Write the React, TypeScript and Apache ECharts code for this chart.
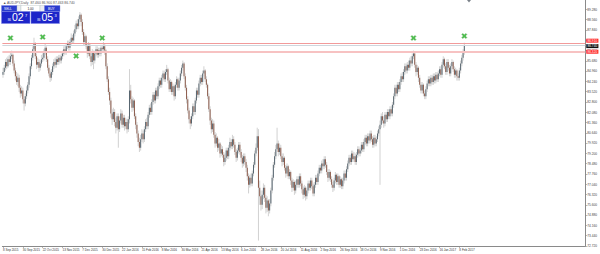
import React, { useEffect, useRef } from "react";
import * as echarts from "echarts";

const firstOpen = 84.7;
const closes = [
  84.9, 85.2, 85.6, 85.3, 85.8, 85.6, 86.0, 86.1, 85.5, 85.0, 84.6, 84.2, 84.5, 83.8, 83.4, 83.6,
  83.0, 82.7, 83.2, 83.6, 84.0, 84.6, 85.3, 85.9, 86.5, 86.9, 86.0, 85.4, 85.6, 85.2, 85.5, 85.8,
  85.9, 86.3, 86.6, 85.8, 85.2, 84.8, 84.5, 84.9, 85.3, 85.6, 85.4, 85.8, 85.6, 85.9, 85.7, 86.0,
  86.2, 86.5, 86.3, 86.7, 86.9, 86.6, 87.0, 87.3, 87.1, 87.6, 87.9, 88.3, 88.1, 88.6, 88.9, 88.4,
  87.7, 87.0, 87.4, 86.7, 86.2, 86.8, 86.0, 85.6, 86.3, 85.7, 86.2, 86.5, 86.1, 86.4, 86.2, 86.6,
  86.5, 86.7, 86.4, 85.3, 84.4, 83.5, 82.9, 82.0, 81.6, 82.1, 81.4, 81.0, 81.8, 80.9, 81.5, 82.0,
  81.2, 81.7, 81.1, 81.4, 80.9, 81.6, 83.6, 83.0, 82.4, 82.9, 81.8, 81.2, 80.6, 80.0, 79.6, 80.2,
  80.6, 80.2, 80.9, 81.4, 81.1, 81.9, 82.4, 82.1, 82.8, 83.3, 82.9, 83.6, 83.2, 83.9, 84.3, 84.0,
  84.5, 84.8, 84.4, 84.9, 85.1, 84.3, 83.7, 84.2, 83.5, 83.9, 83.2, 84.0, 84.4, 83.8, 84.3, 84.8,
  85.2, 85.5, 84.6, 83.8, 83.0, 82.2, 81.6, 81.3, 81.8, 82.5, 82.1, 82.9, 83.6, 83.3, 84.1, 84.5,
  84.2, 84.8, 85.0, 84.4, 84.0, 83.2, 82.3, 81.5, 80.9, 81.3, 80.5, 79.9, 80.3, 79.6, 79.9, 79.2,
  79.5, 79.1, 78.6, 78.9, 79.4, 79.0, 79.6, 80.0, 79.7, 80.2, 79.8, 79.3, 78.9, 79.4, 79.8, 79.3,
  78.9, 78.5, 79.0, 78.6, 78.2, 77.6, 77.0, 77.5, 77.1, 77.8, 78.4, 79.2, 79.6, 80.4, 76.8, 76.2,
  75.6, 76.3, 76.8, 76.1, 75.4, 75.9, 75.2, 75.7, 76.6, 77.5, 78.4, 79.0, 79.5, 79.9, 79.3, 79.6,
  79.0, 78.6, 78.9, 78.2, 77.8, 78.3, 77.6, 77.9, 77.3, 76.8, 77.2, 76.6, 77.0, 77.4, 77.0, 77.6,
  77.1, 76.7, 76.3, 76.8, 76.2, 76.6, 77.1, 76.8, 77.3, 76.9, 76.4, 77.0, 77.5, 77.2, 77.8, 78.2,
  78.0, 78.5, 78.3, 78.8, 78.4, 77.9, 77.5, 77.9, 77.4, 77.0, 76.8, 77.3, 77.7, 77.2, 77.6, 77.0,
  77.4, 76.9, 77.3, 77.8, 77.5, 78.1, 78.5, 78.9, 78.6, 79.2, 78.8, 79.0, 78.6, 79.1, 79.5, 79.2,
  79.4, 79.8, 79.5, 80.0, 80.3, 79.9, 80.4, 80.1, 80.6, 80.2, 79.8, 80.3, 79.9, 80.2, 80.6, 80.9,
  81.2, 81.8, 81.5, 81.3, 81.9, 81.6, 82.1, 81.8, 82.3, 82.0, 82.6, 83.2, 83.8, 83.4, 84.0, 83.7,
  84.2, 84.6, 84.4, 84.9, 85.3, 85.0, 85.4, 85.2, 85.7, 85.5, 86.0, 86.2, 85.4, 84.9, 85.2, 84.5,
  84.0, 83.6, 84.0, 83.4, 83.2, 83.7, 84.1, 84.4, 84.1, 84.5, 84.2, 84.6, 84.3, 84.7, 84.4, 84.8,
  85.1, 84.7, 85.4, 85.8, 85.3, 84.9, 85.6, 85.2, 84.8, 85.3, 85.6, 85.1, 84.7, 85.0, 84.6, 84.5,
  85.0, 85.5, 85.9, 86.3, 86.75,
];
const highs = [
  85.2, 85.4, 85.8, 85.9, 86.0, 86.1, 86.3, 86.4, 86.2, 85.7, 85.2, 84.9, 84.8, 84.7, 84.0, 83.9,
  83.8, 83.2, 83.4, 83.9, 84.2, 84.8, 85.5, 86.1, 86.7, 87.3, 87.0, 86.2, 85.9, 85.8, 85.7, 86.1,
  86.2, 86.5, 86.9, 86.7, 86.0, 85.4, 85.0, 85.1, 85.5, 85.8, 85.9, 86.0, 86.0, 86.1, 86.1, 86.2,
  86.4, 86.7, 86.8, 86.9, 87.1, 87.1, 87.2, 87.6, 87.5, 87.8, 88.2, 88.5, 88.6, 88.8, 89.1, 89.0,
  88.6, 87.9, 87.6, 87.5, 86.9, 87.0, 86.9, 86.2, 86.5, 86.4, 86.4, 86.7, 86.7, 86.6, 86.6, 86.8,
  86.8, 87.0, 86.9, 86.5, 85.5, 84.6, 83.8, 83.1, 82.3, 82.4, 82.3, 81.7, 82.0, 82.0, 81.8, 82.3,
  82.2, 81.9, 81.9, 81.7, 81.6, 81.8, 85.1, 84.0, 83.2, 83.1, 83.0, 82.0, 81.4, 80.8, 80.3, 80.5,
  80.9, 80.8, 81.1, 81.6, 81.7, 82.1, 82.6, 82.7, 83.0, 83.5, 83.5, 83.8, 83.8, 84.1, 84.5, 84.5,
  84.7, 85.0, 85.0, 85.1, 85.4, 85.2, 84.5, 84.4, 84.3, 84.1, 84.0, 84.2, 84.6, 84.5, 84.5, 85.0,
  85.4, 85.7, 85.6, 84.8, 84.0, 83.2, 82.4, 81.8, 82.0, 82.7, 82.7, 83.1, 83.8, 83.8, 84.3, 84.7,
  84.7, 85.0, 85.3, 85.1, 84.6, 84.1, 83.4, 82.5, 81.7, 81.6, 81.5, 80.7, 80.6, 80.4, 80.2, 80.0,
  79.8, 79.7, 79.3, 79.2, 79.6, 79.6, 79.8, 80.3, 80.2, 80.5, 80.4, 80.0, 79.5, 79.6, 80.0, 80.0,
  79.5, 79.1, 79.2, 79.2, 78.8, 78.4, 77.8, 77.7, 77.8, 78.0, 78.6, 79.4, 79.9, 81.0, 80.9, 77.3,
  76.6, 76.6, 77.1, 77.0, 76.3, 76.2, 76.0, 76.0, 76.8, 77.7, 78.6, 79.3, 79.8, 81.0, 80.1, 79.9,
  79.8, 79.2, 79.2, 79.0, 78.4, 78.5, 78.4, 78.1, 78.0, 77.5, 77.4, 77.3, 77.3, 77.6, 77.6, 77.8,
  77.8, 77.3, 76.9, 77.0, 76.9, 76.8, 77.3, 77.3, 77.5, 77.5, 77.1, 77.2, 77.7, 77.7, 78.0, 78.4,
  78.4, 78.7, 78.8, 79.0, 79.0, 78.6, 78.1, 78.1, 78.0, 77.6, 77.2, 77.5, 77.9, 77.8, 77.8, 77.7,
  77.6, 77.5, 77.5, 78.0, 78.0, 78.3, 78.7, 79.1, 79.1, 79.4, 79.4, 79.3, 79.2, 79.3, 79.7, 79.7,
  79.6, 80.0, 80.0, 80.2, 80.5, 80.5, 80.6, 80.6, 80.8, 80.8, 80.4, 80.5, 80.5, 80.4, 80.8, 81.1,
  81.5, 82.0, 82.1, 81.8, 82.1, 82.1, 82.3, 82.3, 82.5, 82.5, 82.8, 83.4, 84.0, 84.0, 84.2, 84.2,
  84.4, 84.8, 84.9, 85.1, 85.5, 85.5, 85.6, 85.7, 85.9, 86.0, 86.2, 86.4, 86.3, 85.6, 85.4, 85.3,
  84.7, 84.2, 84.2, 84.1, 83.6, 83.9, 84.3, 84.6, 84.6, 84.7, 84.7, 84.8, 84.8, 84.9, 84.9, 85.0,
  85.3, 85.3, 85.6, 86.0, 85.9, 85.5, 85.8, 85.8, 85.4, 85.5, 85.8, 85.7, 85.3, 85.2, 85.1, 84.8,
  85.2, 85.7, 86.1, 86.5, 86.95,
];
const lows = [
  84.5, 84.7, 85.0, 85.1, 85.2, 85.4, 85.4, 85.8, 85.3, 84.8, 84.3, 84.0, 83.9, 83.5, 83.1, 83.2,
  82.7, 82.2, 82.5, 83.0, 83.4, 83.8, 84.4, 85.1, 85.7, 86.3, 85.8, 85.1, 85.2, 84.9, 85.0, 85.3,
  85.6, 85.7, 86.1, 85.6, 85.0, 84.6, 84.2, 84.3, 84.7, 85.1, 85.2, 85.2, 85.4, 85.4, 85.5, 85.5,
  85.8, 86.0, 86.1, 86.1, 86.5, 86.4, 86.4, 86.8, 86.9, 86.9, 87.4, 87.7, 87.9, 87.9, 88.4, 88.1,
  87.5, 86.8, 86.8, 86.5, 85.9, 86.0, 85.8, 85.3, 85.4, 85.1, 85.5, 86.0, 85.9, 85.9, 86.0, 86.0,
  86.3, 86.3, 86.1, 85.1, 84.2, 83.3, 82.6, 81.7, 81.2, 81.4, 81.1, 80.6, 80.8, 79.6, 80.7, 81.3,
  81.0, 81.0, 80.8, 80.9, 80.6, 80.7, 81.3, 82.7, 82.1, 82.2, 81.6, 80.9, 80.3, 79.7, 79.3, 79.4,
  80.0, 79.9, 80.0, 80.7, 80.9, 80.9, 81.7, 81.9, 81.9, 82.6, 82.7, 82.7, 83.0, 83.0, 83.7, 83.8,
  83.8, 84.3, 84.2, 84.2, 84.7, 84.1, 83.5, 83.5, 83.3, 83.3, 82.9, 83.0, 83.8, 83.6, 83.6, 84.1,
  84.6, 85.0, 84.4, 83.6, 82.7, 82.0, 81.3, 80.9, 81.1, 81.6, 81.9, 81.9, 82.7, 83.1, 83.1, 83.9,
  84.0, 84.0, 84.6, 84.2, 83.8, 83.0, 82.1, 81.2, 80.6, 80.7, 80.3, 79.6, 79.7, 79.3, 79.4, 78.9,
  79.0, 78.9, 78.3, 78.4, 78.7, 78.8, 78.8, 79.4, 79.5, 79.5, 79.6, 79.1, 78.6, 78.7, 79.2, 79.1,
  78.6, 78.2, 78.3, 78.4, 77.9, 77.3, 76.4, 76.8, 76.9, 76.9, 77.6, 78.2, 79.0, 79.4, 73.1, 75.6,
  75.2, 75.3, 76.0, 75.8, 75.0, 75.1, 74.8, 75.0, 75.5, 76.4, 77.3, 78.2, 78.8, 79.3, 79.0, 79.1,
  78.8, 78.3, 78.4, 78.0, 77.5, 77.6, 77.4, 77.4, 77.0, 76.5, 76.6, 76.3, 76.4, 76.8, 76.8, 76.8,
  76.9, 76.4, 76.0, 76.1, 75.9, 76.0, 76.4, 76.6, 76.6, 76.7, 76.2, 76.2, 76.8, 77.0, 77.0, 77.6,
  77.8, 77.8, 78.1, 78.1, 78.2, 77.7, 77.2, 77.3, 77.2, 76.8, 76.5, 76.6, 77.1, 77.0, 77.0, 76.8,
  76.8, 76.7, 76.7, 77.1, 77.3, 77.3, 77.9, 78.3, 78.4, 78.4, 78.6, 78.6, 78.4, 78.4, 78.9, 79.0,
  79.0, 79.2, 79.3, 79.3, 79.8, 79.7, 79.7, 79.9, 79.9, 80.0, 79.6, 79.6, 79.7, 79.7, 80.0, 80.4,
  77.0, 81.0, 81.3, 81.0, 81.1, 81.4, 81.4, 81.6, 81.6, 81.8, 81.8, 82.4, 83.0, 83.2, 83.2, 83.5,
  83.5, 84.0, 84.2, 84.2, 84.7, 84.8, 84.8, 85.0, 85.0, 85.3, 85.3, 85.8, 85.2, 84.6, 84.7, 84.2,
  83.8, 83.4, 83.4, 83.2, 83.0, 83.0, 83.5, 83.9, 83.9, 83.9, 84.0, 84.0, 84.1, 84.1, 84.2, 84.2,
  84.6, 84.5, 84.5, 85.2, 85.1, 84.7, 84.7, 85.0, 84.6, 84.6, 85.1, 84.9, 84.5, 84.5, 84.3, 84.3,
  84.3, 84.8, 85.3, 85.7, 86.1,
];

const dateLabels = [
  "8 Sep 2015", "30 Sep 2015", "22 Oct 2015", "13 Nov 2015", "7 Dec 2015", "30 Dec 2015",
  "22 Jan 2016", "15 Feb 2016", "8 Mar 2016", "30 Mar 2016", "21 Apr 2016", "13 May 2016",
  "6 Jun 2016", "28 Jun 2016", "20 Jul 2016", "11 Aug 2016", "2 Sep 2016", "26 Sep 2016",
  "18 Oct 2016", "9 Nov 2016", "1 Dec 2016", "23 Dec 2016", "16 Jan 2017", "8 Feb 2017",
];
const labelEvery = 16;
const slotCount = 470;

const crossMarks = [
  [6, 87.28], [32, 87.35], [59, 86.02], [80, 87.28], [331, 87.28], [372, 87.42],
];
const levelLines = [
  { value: 86.91, label: "86.910", kind: "res" },
  { value: 86.74, label: "86.740", kind: "bid" },
  { value: 86.32, label: "86.320", kind: "sup" },
];
const headerText = "AUDJPY,Daily  87.460 86.900 87.463 86.740";
const sellQuote = { small: "86", big: "02", sup: "7" };
const buyQuote = { small: "86", big: "05", sup: "3" };
const lotText = "1.00";

const BULL = "#56656f";
const BEAR = "#8d5c4c";
const WICK = "#bdbdbd";

export default function App() {
  const ref = useRef<HTMLDivElement>(null);
  useEffect(() => {
    if (!ref.current) return;
    const chart = echarts.init(ref.current, undefined, { renderer: "svg" });
    const candles = closes.map((c, i) => [i, i === 0 ? firstOpen : closes[i - 1], c, lows[i], highs[i]]);
    const cats = Array.from({ length: slotCount }, (_, i) => String(i));
    const showLabel = (idx: number) => idx % labelEvery === 0 && idx / labelEvery < dateLabels.length;
    const X_SYM = "path://M2,0 L5,3 L8,0 L10,2 L7,5 L10,8 L8,10 L5,7 L2,10 L0,8 L3,5 L0,2 Z";

    const lineStyleFor = (k: string) =>
      k === "res" ? { color: "#f29a9a", width: 1, type: "solid" as const }
      : k === "bid" ? { color: "#cfd6dd", width: 1, type: "solid" as const }
      : { color: "#f7c2c2", width: 2.2, type: "solid" as const };
    const labelBg = (k: string) => (k === "bid" ? "#111" : "#ff2a2a");
    const labelOffset = (k: string) => (k === "res" ? [0, -2.6] : k === "bid" ? [0, 0.4] : [0, 0]);

    const quoteBox = (x: number, q: { small: string; big: string; sup: string }) => ({
      type: "group",
      children: [
        { type: "rect", shape: { x, y: 11.5, width: 28.5, height: 12 }, style: { fill: "#1d25c9", stroke: "#7f86e6", lineWidth: 0.5 } },
        { type: "text", x: x + 9.5, y: 21.5, style: { text: q.small, fill: "#fff", fontSize: 3, fontFamily: "Arial", textVerticalAlign: "bottom", textAlign: "right" } },
        { type: "text", x: x + 10.5, y: 22.5, style: { text: q.big, fill: "#fff", fontSize: 10.5, fontFamily: "Arial", textVerticalAlign: "bottom" } },
        { type: "text", x: x + 23.5, y: 13, style: { text: q.sup, fill: "#fff", fontSize: 4, fontFamily: "Arial", textVerticalAlign: "top" } },
      ],
    });

    chart.setOption({
      animation: false,
      backgroundColor: "#ffffff",
      grid: { left: 0, top: 0, width: 587, height: 246, containLabel: false },
      xAxis: {
        type: "category",
        data: cats,
        boundaryGap: true,
        axisLine: { show: true, lineStyle: { color: "#8a8a8a", width: 1 } },
        axisTick: { show: true, interval: (i: number) => showLabel(i), length: 2, alignWithLabel: true, lineStyle: { color: "#8a8a8a", width: 0.6 } },
        axisLabel: {
          show: true,
          interval: (i: number) => showLabel(i),
          formatter: (_v: string, i: number) => dateLabels[i / labelEvery] ?? "",
          fontSize: 3,
          color: "#333",
          align: "left",
          margin: 2.5,
          fontFamily: "Arial",
        },
        splitLine: { show: false },
      },
      yAxis: {
        type: "value",
        position: "right",
        min: 72.72,
        max: 89.94,
        interval: 0.72,
        axisLine: { show: true, lineStyle: { color: "#8a8a8a", width: 1 } },
        axisTick: { show: true, length: 2, lineStyle: { color: "#8a8a8a", width: 0.6 } },
        axisLabel: {
          fontSize: 3.2,
          color: "#444",
          margin: 2,
          fontFamily: "Arial",
          showMaxLabel: false,
          formatter: (v: number) => v.toFixed(3),
        },
        splitLine: { show: false },
      },
      series: [
        {
          type: "custom",
          data: candles,
          encode: { x: 0, y: [1, 2, 3, 4] },
          clip: true,
          renderItem: (_p: any, api: any) => {
            const i = api.value(0);
            const o = api.value(1);
            const c = api.value(2);
            const l = api.value(3);
            const h = api.value(4);
            const pO = api.coord([i, o]);
            const pC = api.coord([i, c]);
            const pL = api.coord([i, l]);
            const pH = api.coord([i, h]);
            const x = pO[0];
            const top = Math.min(pO[1], pC[1]);
            const bot = Math.max(pO[1], pC[1]);
            return {
              type: "group",
              children: [
                { type: "line", shape: { x1: x, y1: pH[1], x2: x, y2: pL[1] }, style: { stroke: WICK, lineWidth: 0.7 } },
                { type: "rect", shape: { x: x - 0.5, y: top, width: 1, height: Math.max(bot - top, 0.6) }, style: { fill: c >= o ? BULL : BEAR } },
              ],
            };
          },
          z: 3,
        },
        {
          type: "scatter",
          data: crossMarks,
          symbol: X_SYM,
          symbolSize: 5,
          itemStyle: { color: "#22b422", borderColor: "#0b7a0b", borderWidth: 0.4 },
          z: 5,
          markLine: {
            silent: true,
            symbol: "none",
            data: levelLines.map((lv) => ({
              yAxis: lv.value,
              lineStyle: lineStyleFor(lv.kind),
              label: {
                show: true,
                position: "end",
                formatter: lv.label,
                distance: 1,
                offset: labelOffset(lv.kind),
                fontSize: 3.2,
                color: "#fff",
                backgroundColor: labelBg(lv.kind),
                padding: [0.5, 1.2],
                fontFamily: "Arial",
              },
            })),
          },
        },
      ],
      graphic: [
        { type: "text", left: 3, top: 1, style: { text: "▲ " + headerText, fill: "#555", fontSize: 3.4, fontFamily: "Arial" } },
        { type: "rect", shape: { x: 1.5, y: 5.5, width: 15.5, height: 6 }, style: { fill: "#2a3ccf", stroke: "#8088e0", lineWidth: 0.4 } },
        { type: "text", x: 4, y: 6.8, style: { text: "SELL", fill: "#fff", fontSize: 3.2, fontFamily: "Arial" } },
        { type: "rect", shape: { x: 17, y: 5.5, width: 4, height: 6 }, style: { fill: "#eceef3", stroke: "#9aa", lineWidth: 0.3 } },
        { type: "rect", shape: { x: 21, y: 5.5, width: 19, height: 6 }, style: { fill: "#ffffff", stroke: "#9aa", lineWidth: 0.3 } },
        { type: "text", x: 30.5, y: 6.8, style: { text: lotText, fill: "#222", fontSize: 3.2, fontFamily: "Arial", textAlign: "center" } },
        { type: "rect", shape: { x: 40, y: 5.5, width: 4.5, height: 6 }, style: { fill: "#eceef3", stroke: "#9aa", lineWidth: 0.3 } },
        { type: "rect", shape: { x: 44.5, y: 5.5, width: 15.5, height: 6 }, style: { fill: "#2a3ccf", stroke: "#8088e0", lineWidth: 0.4 } },
        { type: "text", x: 48, y: 6.8, style: { text: "BUY", fill: "#fff", fontSize: 3.2, fontFamily: "Arial" } },
        quoteBox(1.5, sellQuote),
        quoteBox(31, buyQuote),
        { type: "polygon", shape: { points: [[467, 0], [471, 0], [469, 2.5]] }, style: { fill: "#7a8088" } },
      ],
    });
    return () => chart.dispose();
  }, []);
  return (
    <div style={{ position: "fixed", left: 0, top: 0, width: 600, height: 254, background: "#fff" }}>
      <div ref={ref} style={{ width: 600, height: 254 }} />
    </div>
  );
}
